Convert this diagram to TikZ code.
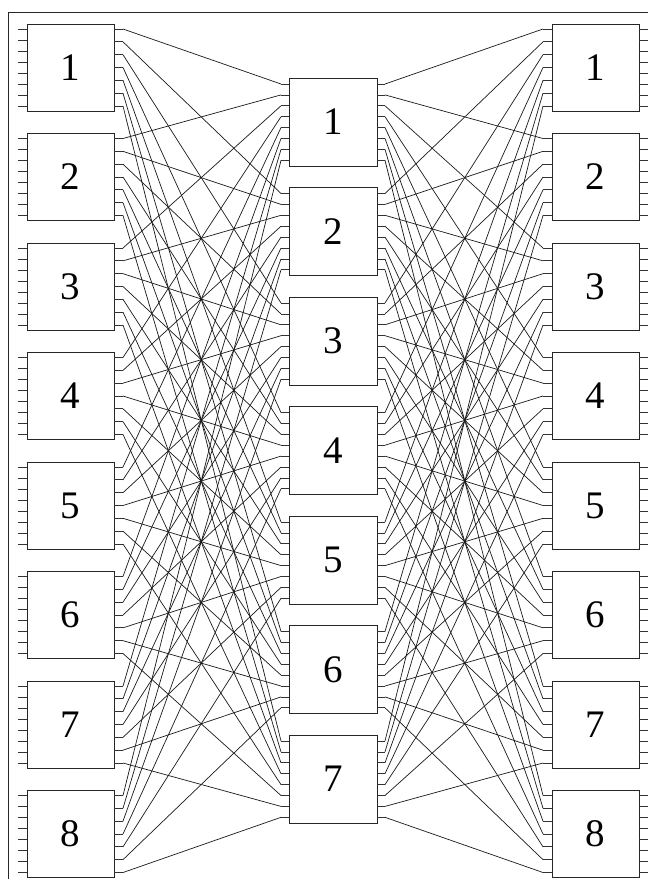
\documentclass[tikz,border=0pt]{standalone}
\usepackage{fontspec}
\setmainfont{Liberation Serif}
\begin{document}
\begin{tikzpicture}[x=1pt,y=-1pt,
  box/.style={draw=black!85,line width=0.9pt,fill=white,minimum width=87pt,minimum height=87pt,inner sep=0pt,font=\fontsize{39}{39}\selectfont},
  mbox/.style={box,minimum width=88pt,minimum height=88pt},
  wire/.style={line width=0.7pt,black!90},
  pin/.style={line width=0.8pt,black!80}]
\useasboundingbox (0,0) rectangle (648,879);
\draw[line width=1pt,black!85] (8,879) -- (8,12) -- (648,12);
% left and right boxes
\foreach \k in {1,...,8}{
  \pgfmathsetmacro\t{24+(\k-1)*109.5}
  \node[box] (L\k) at (70.5,\t+43.5) {\k};
  \node[box] (R\k) at (595.5,\t+43.5) {\k};
  \foreach \i in {1,...,8}{
    \pgfmathsetmacro\y{\t+5+(\i-1)*11}
    \coordinate (Lin\k-\i) at (18,\y);
    \coordinate (Rout\k-\i) at (648,\y);
    \draw[pin] (Lin\k-\i) -- (L\k.west|-Lin\k-\i);
    \draw[pin] (R\k.east|-Rout\k-\i) -- (Rout\k-\i);
  }
  \foreach \j in {1,...,7}{
    \pgfmathsetmacro\y{\t+5+(\j-1)*77/6}
    \coordinate (Lout\k-\j) at (123,\y);
    \coordinate (Rin\k-\j) at (543,\y);
    \draw[pin] (L\k.east|-Lout\k-\j) -- (Lout\k-\j);
    \draw[pin] (Rin\k-\j) -- (R\k.west|-Rin\k-\j);
  }
}
% middle boxes
\foreach \m in {1,...,7}{
  \pgfmathsetmacro\t{78+(\m-1)*109.5}
  \node[mbox] (M\m) at (333,\t+44) {\m};
  \foreach \i in {1,...,8}{
    \pgfmathsetmacro\y{\t+6+(\i-1)*10.9}
    \coordinate (Min\m-\i) at (281,\y);
    \coordinate (Mout\m-\i) at (385,\y);
    \draw[pin] (Min\m-\i) -- (M\m.west|-Min\m-\i);
    \draw[pin] (M\m.east|-Mout\m-\i) -- (Mout\m-\i);
  }
}
% connections
\foreach \k in {1,...,8}{
  \foreach \j in {1,...,7}{
    \draw[wire] (Lout\k-\j) -- (Min\j-\k);
    \draw[wire] (Mout\j-\k) -- (Rin\k-\j);
  }
}
\end{tikzpicture}
\end{document}
